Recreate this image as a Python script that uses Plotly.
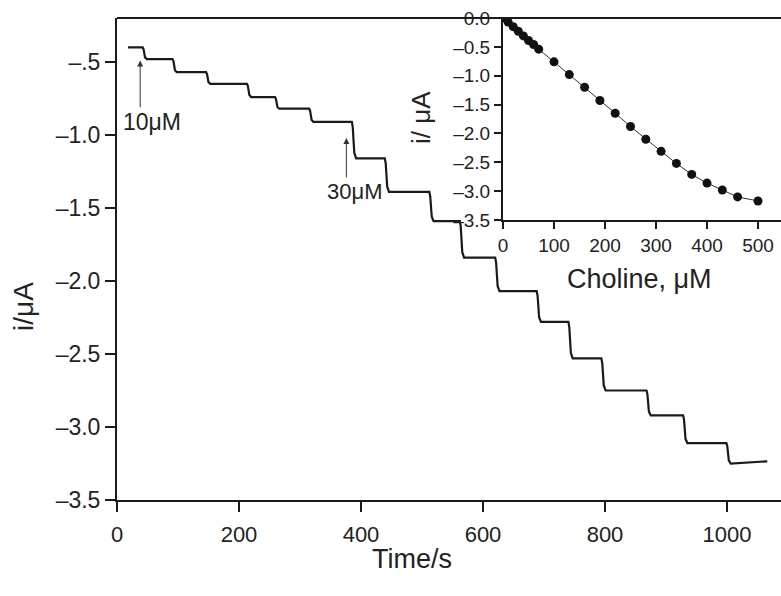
import plotly.graph_objects as go

# ---- main amperometric trace ----
t_start = 18
t_end = 1066
step_times = [42, 91, 146, 213, 259, 315, 385, 439, 512, 562, 620, 688, 740, 794, 868, 928, 999]
levels = [-0.40, -0.48, -0.57, -0.65, -0.74, -0.82, -0.91, -1.16, -1.39, -1.59,
          -1.84, -2.07, -2.28, -2.53, -2.75, -2.92, -3.11, -3.25]
end_level = -3.235

# ---- inset calibration curve ----
conc = [0, 10, 20, 30, 40, 50, 60, 70, 100, 130, 160, 190, 220, 250, 280, 310,
        340, 370, 400, 430, 460, 500]
cur = [0.0, -0.07, -0.15, -0.23, -0.31, -0.39, -0.46, -0.54, -0.76, -0.98, -1.20,
       -1.43, -1.65, -1.88, -2.10, -2.31, -2.52, -2.71, -2.86, -2.98, -3.10, -3.17]

main_yticks = [-0.5, -1.0, -1.5, -2.0, -2.5, -3.0, -3.5]
main_yticktext = ["–.5", "–1.0", "–1.5", "–2.0", "–2.5", "–3.0", "–3.5"]
main_xticks = [0, 200, 400, 600, 800, 1000]
inset_yticks = [0.0, -0.5, -1.0, -1.5, -2.0, -2.5, -3.0, -3.5]
inset_yticktext = ["0.0", "–0.5", "–1.0", "–1.5", "–2.0", "–2.5", "–3.0", "–3.5"]
inset_xticks = [0, 100, 200, 300, 400, 500]

# build staircase polyline
tx = [t_start]
ty = [levels[0]]
for k, ts in enumerate(step_times):
    lp, ln = levels[k], levels[k + 1]
    d = ln - lp
    tx += [ts, ts + 1.5, ts + 4, ts + 7]
    ty += [lp, lp + 0.15 * d, lp + 0.85 * d, ln]
tx.append(t_end)
ty.append(end_level)

FONT = "Liberation Sans, Arial, sans-serif"
TXT = "#222222"
LINE = "#1a1a1a"

fig = go.Figure()
fig.add_trace(go.Scatter(x=tx, y=ty, mode="lines",
                         line=dict(color=LINE, width=2.2), showlegend=False,
                         xaxis="x", yaxis="y"))
fig.add_trace(go.Scatter(x=conc, y=cur, mode="lines+markers",
                         line=dict(color="#333333", width=1),
                         marker=dict(color="#111111", size=9),
                         showlegend=False, xaxis="x2", yaxis="y2"))

W, H = 781, 596
ml, mr, mt, mb = 117, 0, 18, 96
pw, ph = W - ml - mr, H - mt - mb

def px_to_paper_x(px):
    return (px - ml) / pw

def px_to_paper_y(py):
    return 1 - (py - mt) / ph

main_yrange = [-3.5, -0.5 + (62 - mt) / 146]
main_xrange = [0, (W - ml) / 0.61]

fig.update_layout(
    width=W, height=H,
    margin=dict(l=ml, r=mr, t=mt, b=mb),
    paper_bgcolor="white", plot_bgcolor="white",
    font=dict(family=FONT, color=TXT),
    xaxis=dict(range=main_xrange, showgrid=False, zeroline=False,
               showline=True, linecolor=LINE, linewidth=2,
               ticks="outside", ticklen=10, tickwidth=2, tickcolor=LINE,
               tickvals=main_xticks, tickfont=dict(size=22, family=FONT, color=TXT),
               ticklabelstandoff=4, domain=[0, 1]),
    yaxis=dict(range=main_yrange, showgrid=False, zeroline=False,
               showline=True, linecolor=LINE, linewidth=2,
               ticks="outside", ticklen=10, tickwidth=2, tickcolor=LINE,
               tickvals=main_yticks, ticktext=main_yticktext,
               tickfont=dict(size=23, family=FONT, color=TXT),
               domain=[0, 1]),
    xaxis2=dict(range=[0, (W - 503) / 0.51], domain=[px_to_paper_x(503), 1],
                anchor="y2", showgrid=False, zeroline=False,
                showline=True, linecolor=LINE, linewidth=2,
                ticks="outside", ticklen=7, tickwidth=2, tickcolor=LINE,
                tickvals=inset_xticks, tickfont=dict(size=19, family=FONT, color=TXT)),
    yaxis2=dict(range=[-3.5, 0.0], domain=[px_to_paper_y(220), 1],
                anchor="x2", showgrid=False, zeroline=False,
                showline=True, linecolor=LINE, linewidth=2,
                ticks="outside", ticklen=7, tickwidth=2, tickcolor=LINE,
                tickvals=inset_yticks, ticktext=inset_yticktext,
                tickfont=dict(size=19, family=FONT, color=TXT)),
    shapes=[dict(type="line", xref="paper", yref="paper", x0=0, x1=1, y0=1, y1=1,
                 line=dict(color=LINE, width=2))],
)

def label(text, px, py, size, angle=0):
    return dict(text=text, xref="paper", yref="paper", textangle=angle,
                x=px_to_paper_x(px), y=px_to_paper_y(py),
                xanchor="center", yanchor="middle", showarrow=False,
                font=dict(size=size, family=FONT, color=TXT))

ann = []
ann.append(label("Time/s", 412, 559, 27))
ann.append(label("i/μA", 23, 306, 28, -90))
ann.append(label("Choline, μM", 639, 279, 27))
ann.append(label("i/ μA", 421, 118, 26, -90))
# arrows
ann.append(dict(text="", x=38, y=-0.49, xref="x", yref="y",
                ax=38, ay=-0.82, axref="x", ayref="y", showarrow=True,
                arrowhead=2, arrowsize=1.2, arrowwidth=1, arrowcolor="#333333"))
ann.append(dict(text="10μM", x=57, y=-0.91, xref="x", yref="y", showarrow=False,
                xanchor="center", yanchor="middle",
                font=dict(size=23, family=FONT, color=TXT)))
ann.append(dict(text="", x=376, y=-1.02, xref="x", yref="y",
                ax=376, ay=-1.30, axref="x", ayref="y", showarrow=True,
                arrowhead=2, arrowsize=1.2, arrowwidth=1, arrowcolor="#333333"))
ann.append(dict(text="30μM", x=390, y=-1.39, xref="x", yref="y", showarrow=False,
                xanchor="center", yanchor="middle",
                font=dict(size=22, family=FONT, color=TXT)))
fig.update_layout(annotations=ann)

fig.write_html("out.html")
